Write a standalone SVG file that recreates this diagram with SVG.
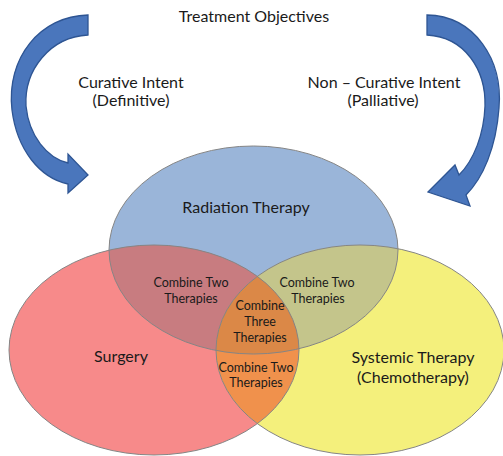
<svg xmlns="http://www.w3.org/2000/svg" width="503" height="456" viewBox="0 0 503 456">
<style>
text{font-family:Lato,"Open Sans","Liberation Sans",sans-serif;fill:#1a1a1a;text-anchor:middle}
.big{font-size:16px}
.mid{font-size:16px}
.small{font-size:12.5px}
.outline{fill:none;stroke:#858585;stroke-width:1}
.arrow{fill:#4a76bc;stroke:#2e5593;stroke-width:1.3;stroke-linejoin:miter}
</style>
<defs>
<clipPath id="cB"><ellipse cx="253.5" cy="250" rx="144.5" ry="104"/></clipPath>
<clipPath id="cY"><ellipse cx="360" cy="350" rx="144" ry="105"/></clipPath>
</defs>
<rect width="503" height="456" fill="#ffffff"/>

<g id="connectors">
<path class="arrow" d="M88,15 C40,16 6,58 12,110 C17,150 40,178 68,184 L68,193 L88,175 L68,154 L68,163 C47,158 29,136 26,106 C24,70 50,37 88,35 Z"/>
<path class="arrow" d="M427,15 C475,16 503,60 499,108 C496,148 483,178 466,195 L470,206 L428,192 L455,165 L459,175 C474,160 484,134 485,106 C486,70 465,37 427,35 Z"/>
</g>

<g id="radiation">
<ellipse cx="253.5" cy="250" rx="144.5" ry="104" fill="#9ab5d9"/>
</g>
<g id="surgery">
<ellipse cx="154" cy="350" rx="145" ry="105" fill="#f78a8a"/>
</g>
<g id="systemic">
<ellipse cx="360" cy="350" rx="144" ry="105" fill="#f4f07c"/>
</g>
<g id="surgery-radiation">
<ellipse cx="154" cy="350" rx="145" ry="105" fill="#c87c80" clip-path="url(#cB)"/>
</g>
<g id="radiation-systemic">
<ellipse cx="360" cy="350" rx="144" ry="105" fill="#c4c58b" clip-path="url(#cB)"/>
</g>
<g id="surgery-systemic">
<ellipse cx="154" cy="350" rx="145" ry="105" fill="#f0914c" clip-path="url(#cY)"/>
</g>
<g id="all-three" clip-path="url(#cB)">
<ellipse cx="154" cy="350" rx="145" ry="105" fill="#db8847" clip-path="url(#cY)"/>
</g>

<g id="outlines">
<ellipse class="outline" cx="253.5" cy="250" rx="144.5" ry="104"/>
<ellipse class="outline" cx="154" cy="350" rx="145" ry="105"/>
<ellipse class="outline" cx="360" cy="350" rx="144" ry="105"/>
</g>

<g id="labels">
<text class="mid" x="254" y="22">Treatment Objectives</text>
<text class="mid" x="131" y="88">Curative Intent</text>
<text class="mid" x="131" y="106">(Definitive)</text>
<text class="mid" x="384" y="88">Non – Curative Intent</text>
<text class="mid" x="383" y="106">(Palliative)</text>
<text class="big" x="246" y="213">Radiation Therapy</text>
<text class="big" x="121" y="362">Surgery</text>
<text class="big" x="413" y="363">Systemic Therapy</text>
<text class="big" x="413" y="383">(Chemotherapy)</text>
<text class="small" x="191" y="287">Combine Two</text>
<text class="small" x="191" y="303">Therapies</text>
<text class="small" x="317" y="287">Combine Two</text>
<text class="small" x="318" y="303">Therapies</text>
<text class="small" x="260" y="310">Combine</text>
<text class="small" x="260" y="326">Three</text>
<text class="small" x="260" y="342">Therapies</text>
<text class="small" x="256" y="372">Combine Two</text>
<text class="small" x="256" y="387">Therapies</text>
</g>
</svg>
